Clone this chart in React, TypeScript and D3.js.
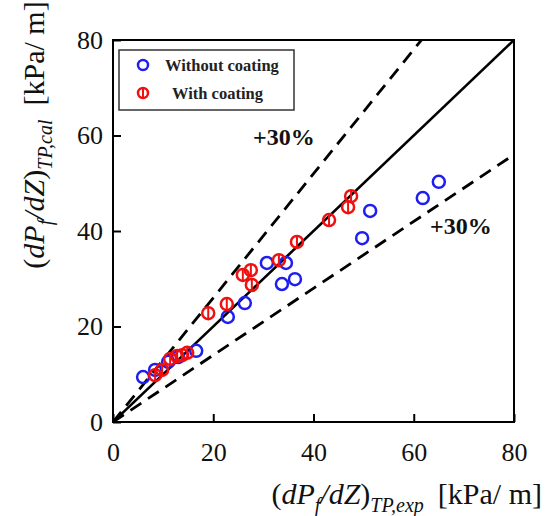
import React, { useEffect, useRef } from "react";
import * as d3 from "d3";

const width = 545;
const height = 516;
const margin = { top: 40, right: 31, bottom: 94, left: 113 };

// [exp, cal] pairs
const withoutCoating: [number, number][] = [
  [6.0, 9.4], [8.4, 10.9], [11.0, 12.6], [13.0, 13.6], [16.6, 14.9],
  [22.9, 22.0], [26.3, 24.9], [30.7, 33.3], [34.5, 33.3], [33.7, 28.9],
  [36.3, 29.9], [49.7, 38.5], [51.3, 44.2], [61.8, 46.9], [65.0, 50.3],
];
const withCoating: [number, number][] = [
  [8.4, 9.8], [9.8, 10.9], [11.4, 13.2], [12.8, 13.8], [13.8, 14.0],
  [14.8, 14.5], [19.0, 22.8], [22.7, 24.7], [25.9, 30.8], [27.5, 31.8],
  [27.7, 28.7], [33.1, 33.9], [36.7, 37.7], [43.1, 42.3], [46.9, 45.0],
  [47.5, 47.3],
];
const ticks = [0, 20, 40, 60, 80];
const bandFactors = [1.3, 0.7];
const legendLabels = ["Without coating", "With coating"];

const serif = "Liberation Serif, Times New Roman, serif";
const blue = "#1e1ef0";
const red = "#f01010";

export default function App() {
  const xAxisRef = useRef<SVGGElement>(null);
  const yAxisRef = useRef<SVGGElement>(null);

  const x = d3.scaleLinear().domain([0, 80]).range([margin.left, width - margin.right]);
  const y = d3.scaleLinear().domain([0, 80]).range([height - margin.bottom, margin.top]);

  useEffect(() => {
    const xAxis = d3.axisBottom(x).tickValues(ticks).tickSize(-8).tickPadding(21);
    const yAxis = d3.axisLeft(y).tickValues(ticks).tickSize(-8).tickPadding(10);
    const gx = d3.select(xAxisRef.current!).call(xAxis);
    const gy = d3.select(yAxisRef.current!).call(yAxis);
    [gx, gy].forEach(g => {
      g.attr("font-family", serif).attr("font-size", 26);
      g.select(".domain").remove();
      g.selectAll("line").attr("stroke", "#000").attr("stroke-width", 2);
      g.selectAll("text").attr("fill", "#111");
    });
  });

  const line = d3.line<[number, number]>().x(d => x(d[0])).y(d => y(d[1]));

  return (
    <svg width={width} height={height} style={{ position: "absolute", left: 0, top: 0 }}>
      <rect width={width} height={height} fill="#fff" />
      <defs>
        <clipPath id="plot">
          <rect x={x(0)} y={y(80)} width={x(80) - x(0)} height={y(0) - y(80)} />
        </clipPath>
      </defs>
      <g clipPath="url(#plot)">
        <path d={line([[0, 0], [80, 80]])!} stroke="#000" strokeWidth={2.6} fill="none" />
        {bandFactors.map(f => (
          <path
            key={f}
            d={line([[0, 0], [80, 80 * f]])!}
            stroke="#000"
            strokeWidth={2.8}
            strokeDasharray="13,8"
            fill="none"
          />
        ))}
      </g>
      {withoutCoating.map((d, i) => (
        <circle key={"b" + i} cx={x(d[0])} cy={y(d[1])} r={6} fill="none" stroke={blue} strokeWidth={2.5} />
      ))}
      {withCoating.map((d, i) => (
        <g key={"r" + i}>
          <circle cx={x(d[0])} cy={y(d[1])} r={6} fill="none" stroke={red} strokeWidth={2.5} />
          <line x1={x(d[0])} x2={x(d[0])} y1={y(d[1]) - 6} y2={y(d[1]) + 6} stroke={red} strokeWidth={2} />
        </g>
      ))}
      <rect
        x={x(0)}
        y={y(80)}
        width={x(80) - x(0)}
        height={y(0) - y(80)}
        fill="none"
        stroke="#000"
        strokeWidth={2}
      />
      <g ref={xAxisRef} transform={`translate(0,${y(0)})`} />
      <g ref={yAxisRef} transform={`translate(${x(0)},0)`} />

      {/* legend */}
      <rect x={119} y={50} width={175} height={60} fill="#fff" stroke="#333" strokeWidth={1.5} />
      <circle cx={143} cy={65} r={5} fill="none" stroke={blue} strokeWidth={2.5} />
      <circle cx={143} cy={93} r={5} fill="none" stroke={red} strokeWidth={2.5} />
      <line x1={143} x2={143} y1={88} y2={98} stroke={red} strokeWidth={2} />
      <text x={165} y={71} fontFamily={serif} fontWeight="bold" fontSize={16.5} fill="#222">
        {legendLabels[0]}
      </text>
      <text x={172} y={99} fontFamily={serif} fontWeight="bold" fontSize={16.5} fill="#222">
        {legendLabels[1]}
      </text>

      <text x={253} y={145} fontFamily={serif} fontWeight="bold" fontSize={24} fill="#111">+30%</text>
      <text x={430} y={234} fontFamily={serif} fontWeight="bold" fontSize={24} fill="#111">+30%</text>

      {/* axis titles */}
      <text x={542} y={504} textAnchor="end" fontFamily={serif} fontSize={30} fill="#111">
        <tspan>(</tspan>
        <tspan fontStyle="italic">dP</tspan>
        <tspan fontStyle="italic" fontSize={20} dy={8}>f</tspan>
        <tspan fontStyle="italic" dy={-8}>/dZ</tspan>
        <tspan>)</tspan>
        <tspan fontStyle="italic" fontSize={20} dy={8}>TP,exp</tspan>
        <tspan dy={-8} dx={14}>[kPa/ m]</tspan>
      </text>
      <text
        transform="translate(44,135) rotate(-90)"
        textAnchor="middle"
        fontFamily={serif}
        fontSize={30}
        fill="#111"
      >
        <tspan>(</tspan>
        <tspan fontStyle="italic">dP</tspan>
        <tspan fontStyle="italic" fontSize={20} dy={8}>f</tspan>
        <tspan fontStyle="italic" dy={-8}>/dZ</tspan>
        <tspan>)</tspan>
        <tspan fontStyle="italic" fontSize={20} dy={8}>TP,cal</tspan>
        <tspan dy={-8} dx={14}>[kPa/ m]</tspan>
      </text>
    </svg>
  );
}
